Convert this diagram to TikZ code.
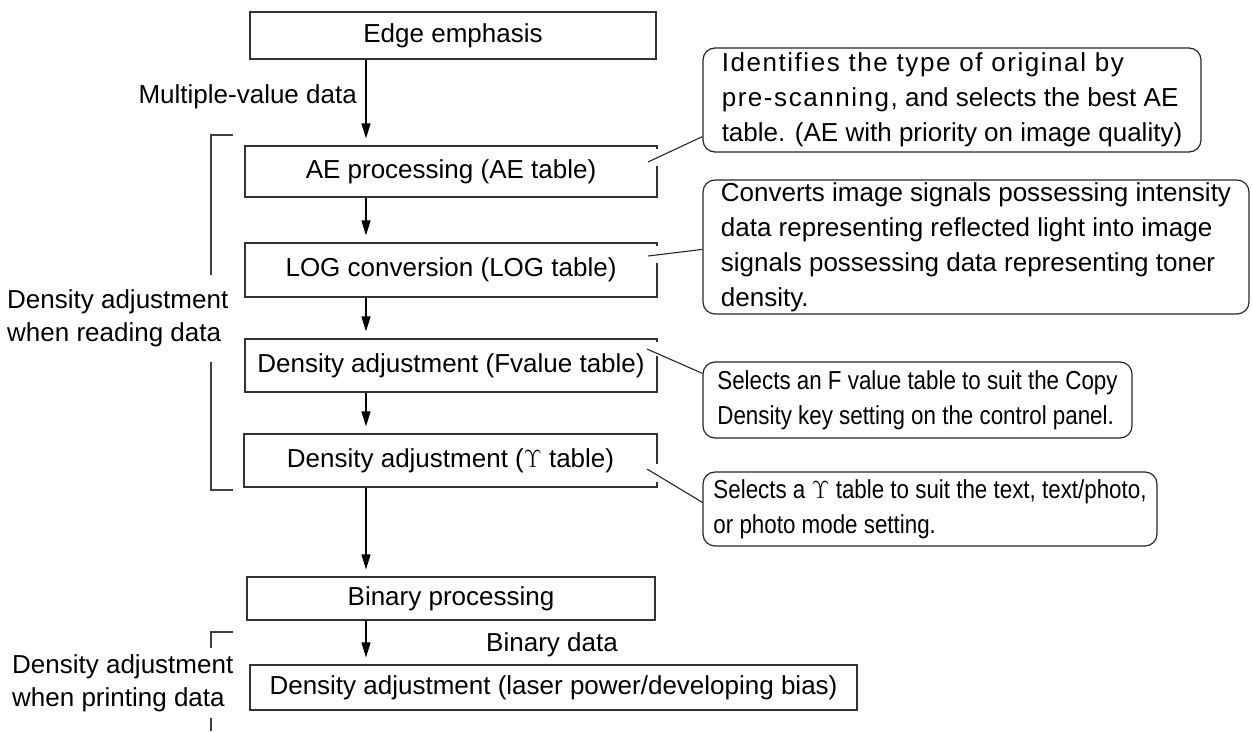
\documentclass[tikz,border=0pt]{standalone}
\usepackage{fontspec}
\setmainfont{Liberation Sans}
\usetikzlibrary{arrows.meta}
\newcommand\bigfs{\fontsize{26}{33}\selectfont}
\newcommand\callfs{\fontsize{26}{35}\selectfont}
\begin{document}
\begin{tikzpicture}[x=1pt,y=-1pt,
  box/.style={draw=black!80, line width=1.2pt, inner sep=0pt, font=\bigfs},
  callout/.style={draw=black!85, line width=1.2pt, rounded corners=12pt, inner sep=0pt, font=\callfs, align=left},
  narrow/.style={font=\callfs\addfontfeature{FakeStretch=0.86}},
  lbl/.style={inner sep=0pt, font=\bigfs},
  arr/.style={draw=black, line width=1.2pt, -{Triangle[length=15pt,width=9pt]}, shorten >=7pt},
  lead/.style={draw=black!85, line width=1.1pt},
  gapw/.style={draw=white, line width=3pt},
  brk/.style={draw=black!75, line width=1.2pt}]
\useasboundingbox (0,0) rectangle (1252,731);

% main boxes
\node[box, minimum width=406pt, minimum height=47pt] (edge) at (453,35.5) {Edge emphasis};
\node[box, minimum width=412pt, minimum height=51pt] (ae) at (451,171.5) {AE processing (AE table)};
\node[box, minimum width=412pt, minimum height=54pt] (log) at (451,270) {LOG conversion (LOG table)};
\node[box, minimum width=412pt, minimum height=53pt] (fval) at (451,365.5) {Density adjustment (Fvalue table)};
\node[box, minimum width=413pt, minimum height=53pt] (ups) at (450.5,460.5) {Density adjustment ($\Upsilon$ table)};
\node[box, minimum width=408pt, minimum height=43pt] (bin) at (451,598.5) {Binary processing};
\node[box, minimum width=607pt, minimum height=45pt] (fin) at (553.5,687.5) {Density adjustment (laser power/developing bias)};

% gaps in right edges
\draw[gapw] ([yshift=-4pt]ae.north east) -- ([yshift=-21pt]ae.north east);
\draw[gapw] ([yshift=-4pt]log.north east) -- ([yshift=-21pt]log.north east);
\draw[gapw] ([yshift=-4pt]fval.north east) -- ([yshift=-18pt]fval.north east);
\draw[gapw] ([yshift=-31pt]ups.north east) -- ([yshift=-49pt]ups.north east);

% arrows
\coordinate (ax) at (366,0);
\draw[arr] (ax |- edge.south) -- (ax |- ae.north);
\draw[arr] (ax |- ae.south) -- (ax |- log.north);
\draw[arr] (ax |- log.south) -- (ax |- fval.north);
\draw[arr] (ax |- fval.south) -- (ax |- ups.north);
\draw[arr] (ax |- ups.south) -- (ax |- bin.north);
\draw[arr] (ax |- bin.south) -- (ax |- fin.north);

% labels
\node[lbl, anchor=east] (mvd) at (357,97) {Multiple-value data};
\node[lbl] (bdata) at (552,645) {Binary data};
\node[lbl, anchor=west, align=left] (rd) at (7,318) {Density adjustment\\when reading data};
\node[lbl, anchor=west, align=left] (pd) at (12,683) {Density adjustment\\when printing data};

% brackets
\draw[brk] (233,135) -- (211,135) -- (211,275);
\draw[brk] (211,362) -- (211,490) -- (233,490);
\draw[brk] (233,632) -- (211,632) -- (211,648);
\draw[brk] (211,718) -- (211,731);

% callouts
\node[callout, minimum width=498pt, minimum height=104pt] (c1) at (952,100)
  {{\addfontfeature{LetterSpace=6}Identifies the type of original by}\\
   {\addfontfeature{LetterSpace=6}pre-scanning,} and selects the best AE\\
   table. (AE with priority on image quality)};
\node[callout, minimum width=546pt, minimum height=134pt] (c2) at (976,247)
  {Converts image signals possessing intensity\\
   data representing reflected light into image\\
   signals possessing data representing toner\\
   density.};
\node[callout, narrow, minimum width=429pt, minimum height=76pt] (c3) at (917.5,400)
  {Selects an F value table to suit the Copy\\
   Density key setting on the control panel.};
\node[callout, narrow, minimum width=454pt, minimum height=74pt] (c4) at (930,509)
  {Selects a $\Upsilon$ table to suit the text, text/photo,\\
   or photo mode setting.};

% leaders
\coordinate (l1) at (648,162);
\coordinate (l2) at (648,256);
\coordinate (l3) at (647,349);
\coordinate (l4) at (647,469);
\draw[lead] (l1) -- ([yshift=16pt]c1.south west);
\draw[lead] (l2) -- ([yshift=-70pt]c2.north west);
\draw[lead] (l3) -- ([yshift=-12pt]c3.north west);
\draw[lead] (l4) -- ([yshift=-31pt]c4.north west);
\end{tikzpicture}
\end{document}
